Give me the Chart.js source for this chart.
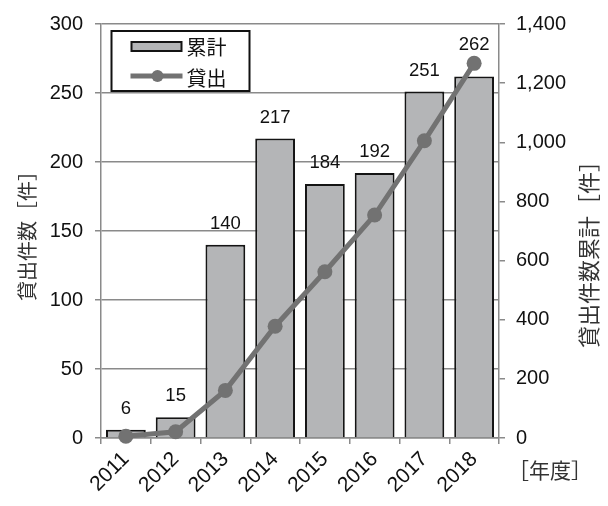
<!DOCTYPE html>
<html lang="ja">
<head>
<meta charset="utf-8">
<title>貸出件数の推移</title>
<script src="https://cdn.jsdelivr.net/npm/chart.js@4.4.1/dist/chart.umd.min.js"></script>
<style>
  html, body { margin: 0; padding: 0; background: #ffffff; }
  #wrap { width: 608px; height: 506px; }
</style>
</head>
<body>
<div id="wrap"><canvas id="chart" width="608" height="506"></canvas></div>
<script>
// Fiscal years on the category axis
const years = ['2011', '2012', '2013', '2014', '2015', '2016', '2017', '2018'];
// Loans per fiscal year (bars, left axis)
const annualLoans = [6, 15, 140, 217, 184, 192, 251, 262];
// Running total of loans (line, right axis)
const cumulativeLoans = [6, 21, 161, 378, 562, 754, 1005, 1267];
// Tick labels for the two value axes
const leftTickLabels = ['0', '50', '100', '150', '200', '250', '300'];
const rightTickLabels = ['0', '200', '400', '600', '800', '1,000', '1,200', '1,400'];
// Legend entries, in the order they are listed
const legendNames = ['累計', '貸出'];
// Axis captions
const leftTitle = '貸出件数［件］';
const rightTitle = '貸出件数累計［件］';
const unitTitle = '［年度］';

const LATIN = '"Liberation Sans", Arial, Helvetica, sans-serif';
const JP = '"Noto Sans CJK JP", "Noto Sans CJK SC", sans-serif';
const TEXT = '#111111';
const CAPTION = '#333333';
const GRID = '#8a8a8a';
const BAR_FILL = '#b4b5b7';
const BAR_EDGE = '#141414';
const LINE = '#727272';

// Value labels above each bar; lifted clear of the line marker when they would touch it
const barValueLabels = {
  id: 'barValueLabels',
  afterDatasetsDraw(chart) {
    const ctx = chart.ctx;
    const barMeta = chart.getDatasetMeta(1);
    const lineMeta = chart.getDatasetMeta(0);
    ctx.save();
    ctx.font = '18.5px ' + LATIN;
    ctx.fillStyle = TEXT;
    ctx.textAlign = 'center';
    ctx.textBaseline = 'alphabetic';
    barMeta.data.forEach((bar, i) => {
      const pt = lineMeta.data[i];
      const y = Math.min(bar.y - 16, pt.y - 13);
      ctx.fillText(String(chart.data.datasets[1].data[i]), bar.x, y);
    });
    ctx.restore();
  }
};

// Framed legend in the upper-left corner of the plot
const legendBox = {
  id: 'legendBox',
  afterDraw(chart) {
    const { ctx, chartArea: a } = chart;
    const bar = chart.data.datasets[1];
    const line = chart.data.datasets[0];
    const x0 = a.left + 10.5, y0 = a.top + 7, w = 138, h = 60;
    ctx.save();
    ctx.fillStyle = '#ffffff';
    ctx.fillRect(x0, y0, w, h);
    ctx.lineWidth = 2;
    ctx.strokeStyle = '#111111';
    ctx.strokeRect(x0, y0, w, h);

    // bar swatch
    ctx.fillStyle = bar.backgroundColor;
    ctx.fillRect(x0 + 20, y0 + 11, 50, 9);
    ctx.strokeStyle = bar.borderColor;
    ctx.strokeRect(x0 + 20, y0 + 11, 50, 9);

    // line swatch with marker
    ctx.strokeStyle = line.borderColor;
    ctx.lineWidth = 5;
    ctx.beginPath();
    ctx.moveTo(x0 + 19, y0 + 45);
    ctx.lineTo(x0 + 71, y0 + 45);
    ctx.stroke();
    ctx.fillStyle = line.pointBackgroundColor;
    ctx.beginPath();
    ctx.arc(x0 + 46, y0 + 45, 6, 0, Math.PI * 2);
    ctx.fill();

    ctx.fillStyle = TEXT;
    ctx.font = '20px ' + JP;
    ctx.textAlign = 'left';
    ctx.textBaseline = 'middle';
    ctx.fillText(bar.label, x0 + 75, y0 + 16);
    ctx.fillText(line.label, x0 + 75, y0 + 47);
    ctx.restore();
  }
};

// Right-axis caption (read bottom to top) and the year unit under the right axis
const sideCaptions = {
  id: 'sideCaptions',
  afterDraw(chart) {
    const { ctx, chartArea: a } = chart;
    ctx.save();
    ctx.fillStyle = CAPTION;
    ctx.textAlign = 'center';
    ctx.textBaseline = 'middle';
    ctx.font = '22px ' + JP;
    ctx.translate(a.right + 90, (a.top + a.bottom) / 2 + 18);
    ctx.rotate(-Math.PI / 2);
    ctx.fillText(rightTitle, 0, 0);
    ctx.restore();

    ctx.save();
    ctx.fillStyle = CAPTION;
    ctx.textAlign = 'center';
    ctx.textBaseline = 'middle';
    ctx.font = '21px ' + JP;
    ctx.fillText(unitTitle, a.right + 51, a.bottom + 32);
    ctx.restore();
  }
};

const ctx = document.getElementById('chart').getContext('2d');
new Chart(ctx, {
  type: 'bar',
  data: {
    labels: years,
    datasets: [
      {
        type: 'line',
        label: legendNames[1],
        data: cumulativeLoans,
        yAxisID: 'y1',
        borderColor: LINE,
        backgroundColor: LINE,
        borderWidth: 5,
        pointRadius: 7.5,
        pointHoverRadius: 7.5,
        pointBorderWidth: 0,
        pointBackgroundColor: LINE,
        tension: 0,
        clip: false,
        order: 0
      },
      {
        type: 'bar',
        label: legendNames[0],
        data: annualLoans,
        yAxisID: 'y',
        backgroundColor: BAR_FILL,
        borderColor: BAR_EDGE,
        borderWidth: 2,
        barPercentage: 0.8,
        categoryPercentage: 1.0,
        order: 1
      }
    ]
  },
  options: {
    responsive: false,
    animation: false,
    events: [],
    layout: { padding: { top: 18, left: 0, right: 0, bottom: 0 } },
    plugins: {
      legend: { display: false },
      tooltip: { enabled: false }
    },
    scales: {
      x: {
        offset: true,
        grid: { offset: true, drawOnChartArea: false, color: GRID, lineWidth: 1.5, tickLength: 6 },
        border: { color: GRID, width: 1.5 },
        ticks: { maxRotation: 45, minRotation: 45, padding: 3, color: TEXT, font: { family: LATIN, size: 21 } },
        afterFit: s => { s.height = 68; }
      },
      y: {
        position: 'left',
        min: 0,
        max: 300,
        ticks: {
          stepSize: 50,
          padding: 12,
          color: TEXT,
          font: { family: LATIN, size: 20 },
          callback: (v) => leftTickLabels[leftTickLabels.indexOf(String(v))] ?? ''
        },
        grid: { color: GRID, lineWidth: 1.5, tickLength: 6 },
        border: { color: GRID, width: 1.5 },
        title: {
          display: true,
          text: leftTitle,
          color: CAPTION,
          font: { family: JP, size: 20 },
          padding: { top: 15, bottom: 0 }
        },
        afterFit: s => { s.width = 101; }
      },
      y1: {
        position: 'right',
        min: 0,
        max: 1400,
        ticks: {
          stepSize: 200,
          padding: 11,
          color: TEXT,
          font: { family: LATIN, size: 20 },
          callback: (v) => rightTickLabels[v / 200] ?? ''
        },
        grid: { drawOnChartArea: false, color: GRID, lineWidth: 1.5, tickLength: 6 },
        border: { color: GRID, width: 1.5 },
        afterFit: s => { s.width = 109; }
      }
    }
  },
  plugins: [barValueLabels, legendBox, sideCaptions]
});
</script>
</body>
</html>
